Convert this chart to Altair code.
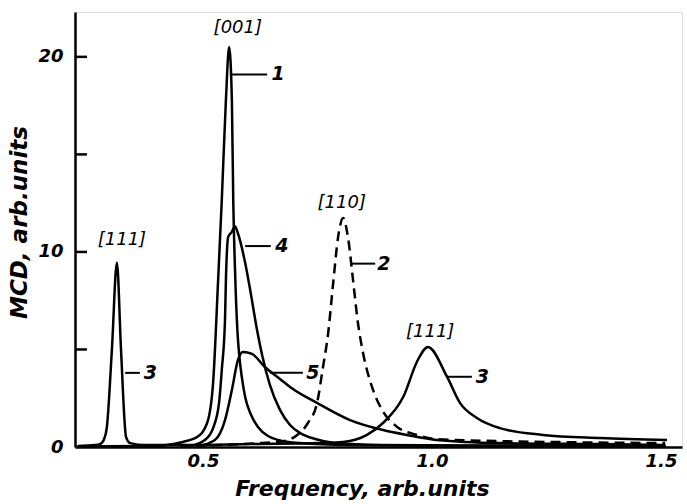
import altair as alt
import pandas as pd

# ---- curve data (frequency, MCD) ----
c1_f = [0.225, 0.384, 0.421, 0.456, 0.487, 0.509, 0.522, 0.533, 0.541, 0.550, 0.557,
        0.563, 0.566, 0.570, 0.575, 0.579, 0.585, 0.592, 0.605, 0.620, 0.642, 0.664,
        0.712, 0.821, 1.039, 1.30, 1.51]
c1_y = [0.03, 0.05, 0.10, 0.26, 0.51, 1.23, 3.28, 8.56, 12.67, 17.79, 20.5,
        17.79, 12.67, 9.0, 6.0, 4.72, 3.54, 2.56, 1.64, 1.03, 0.56, 0.36,
        0.20, 0.10, 0.06, 0.05, 0.05]

c2_f = [0.45, 0.537, 0.624, 0.675, 0.705, 0.729, 0.749, 0.762, 0.773, 0.784, 0.795, 0.806,
        0.817, 0.828, 0.838, 0.849, 0.869, 0.891, 0.924, 0.967, 1.011, 1.148, 1.279, 1.509]
c2_y = [0.05, 0.10, 0.20, 0.30, 0.60, 1.23, 2.26, 4.10, 5.79, 8.36, 10.77, 11.74,
        10.67, 8.46, 6.41, 4.87, 3.08, 1.90, 1.03, 0.62, 0.40, 0.30, 0.25, 0.20]

c3_f = [0.227, 0.264, 0.275, 0.284, 0.290, 0.301, 0.312, 0.321, 0.332, 0.341, 0.373,
        0.472, 0.603, 0.755, 0.806, 0.858, 0.893, 0.937, 0.969, 0.991, 1.033, 1.061,
        1.098, 1.148, 1.242, 1.367, 1.513]
c3_y = [0.05, 0.10, 0.15, 0.40, 1.00, 4.97, 9.44, 4.97, 0.51, 0.20, 0.10,
        0.10, 0.15, 0.20, 0.26, 0.62, 1.23, 2.56, 4.46, 5.13, 3.59, 2.26,
        1.49, 0.97, 0.62, 0.46, 0.36]

c4_f = [0.472, 0.504, 0.522, 0.535, 0.541, 0.548, 0.550, 0.555, 0.562, 0.570, 0.576,
        0.592, 0.603, 0.618, 0.629, 0.646, 0.668, 0.690, 0.712, 0.745, 0.788, 0.886,
        1.10, 1.51]
c4_y = [0.05, 0.36, 0.97, 2.26, 3.95, 6.51, 8.56, 10.77, 11.0, 11.3, 10.97,
        9.44, 8.05, 6.0, 4.72, 3.18, 1.90, 1.13, 0.72, 0.41, 0.20, 0.10,
        0.08, 0.06]

c5_f = [0.489, 0.526, 0.548, 0.563, 0.576, 0.587, 0.607, 0.635, 0.668, 0.690, 0.749,
        0.821, 0.893, 0.945, 1.011, 1.148, 1.367, 1.509]
c5_y = [0.05, 0.36, 1.38, 2.92, 4.44, 4.87, 4.77, 4.10, 3.49, 3.08, 2.26,
        1.38, 0.87, 0.62, 0.36, 0.20, 0.15, 0.10]

# ---- annotations ----
dir_text = ["[001]", "[110]", "[111]", "[111]"]
dir_f = [0.576, 0.803, 0.996, 0.323]
dir_y = [21.5, 12.5, 5.9, 10.6]

num_text = ["1", "4", "2", "3", "3", "5"]
num_f = [0.664, 0.672, 0.895, 1.110, 0.385, 0.740]
num_y = [19.1, 10.3, 9.4, 3.6, 3.8, 3.8]
lead_f1 = [0.563, 0.592, 0.821, 1.033, 0.330, 0.646]
lead_f2 = [0.640, 0.648, 0.876, 1.087, 0.362, 0.718]

ytick_vals = [5, 10, 15, 20]
xlabel_vals = [0.5, 1.0, 1.5]
ylabel_vals = [0, 10, 20]

rows = []
for name, fs, ys in [("1", c1_f, c1_y), ("2", c2_f, c2_y), ("3", c3_f, c3_y),
                     ("4", c4_f, c4_y), ("5", c5_f, c5_y)]:
    for f, y in zip(fs, ys):
        rows.append({"curve": name, "f": f, "mcd": y})
df = pd.DataFrame(rows)

FONT = "DejaVu Sans"
xscale = alt.Scale(domain=[0.2205, 1.5458], nice=False, zero=False)
yscale = alt.Scale(domain=[0, 22.3], nice=False)

xaxis = alt.Axis(values=xlabel_vals, format=".1f", ticks=False, tickSize=0, grid=False,
                 labelFont=FONT, labelFontSize=18, labelFontWeight="bold",
                 labelFontStyle="italic", labelPadding=5, labelColor="black",
                 domainColor="black", domainWidth=2.5,
                 title="Frequency, arb.units", titleFont=FONT, titleFontSize=22,
                 titleFontWeight="bold", titleFontStyle="italic", titleColor="black",
                 titleX=287, titleY=41, titleAlign="center", titleBaseline="middle")
yaxis = alt.Axis(values=ylabel_vals, ticks=False, tickSize=0, grid=False,
                 labelFont=FONT, labelFontSize=18, labelFontWeight="bold",
                 labelFontStyle="italic", labelPadding=12, labelColor="black",
                 domainColor="black", domainWidth=2.5,
                 title="MCD, arb.units", titleFont=FONT, titleFontSize=23,
                 titleFontWeight="bold", titleFontStyle="italic", titleColor="black",
                 titleAngle=270, titleX=-56, titleY=210, titleAlign="center",
                 titleBaseline="middle")

base = alt.Chart(df)
solid = base.transform_filter(alt.datum.curve != "2").mark_line(
    color="black", strokeWidth=2.5, interpolate="monotone", clip=True
).encode(
    x=alt.X("f:Q", scale=xscale, axis=xaxis),
    y=alt.Y("mcd:Q", scale=yscale, axis=yaxis),
    detail="curve:N",
)
dashed = base.transform_filter(alt.datum.curve == "2").mark_line(
    color="black", strokeWidth=2.5, strokeDash=[10, 6], interpolate="monotone", clip=True
).encode(
    x=alt.X("f:Q", scale=xscale),
    y=alt.Y("mcd:Q", scale=yscale),
)

yticks = alt.Chart(pd.DataFrame({"t": ytick_vals})).mark_rule(
    color="black", strokeWidth=2.5
).encode(y=alt.Y("t:Q", scale=yscale), x=alt.value(0), x2=alt.value(12))

leaders = alt.Chart(pd.DataFrame({"a": lead_f1, "b": lead_f2, "y": num_y})).mark_rule(
    color="black", strokeWidth=2
).encode(x=alt.X("a:Q", scale=xscale), x2="b:Q", y=alt.Y("y:Q", scale=yscale))

nums = alt.Chart(pd.DataFrame({"t": num_text, "f": num_f, "y": num_y})).mark_text(
    font=FONT, fontSize=19, fontWeight="bold", fontStyle="italic", color="black",
    align="center", baseline="middle"
).encode(x=alt.X("f:Q", scale=xscale), y=alt.Y("y:Q", scale=yscale), text="t:N")

dirs = alt.Chart(pd.DataFrame({"t": dir_text, "f": dir_f, "y": dir_y})).mark_text(
    font=FONT, fontSize=18, fontStyle="italic", color="black",
    align="center", baseline="middle"
).encode(x=alt.X("f:Q", scale=xscale), y=alt.Y("y:Q", scale=yscale), text="t:N")

chart = alt.layer(solid, dashed, yticks, leaders, nums, dirs).properties(
    width=607, height=435,
    padding={"left": 75, "top": 12, "right": 5, "bottom": 57},
    autosize=alt.AutoSizeParams(type="none"),
).configure_view(stroke=None).configure(background="white")

chart.save("out.html", embed_options={"renderer": "svg", "actions": False})
